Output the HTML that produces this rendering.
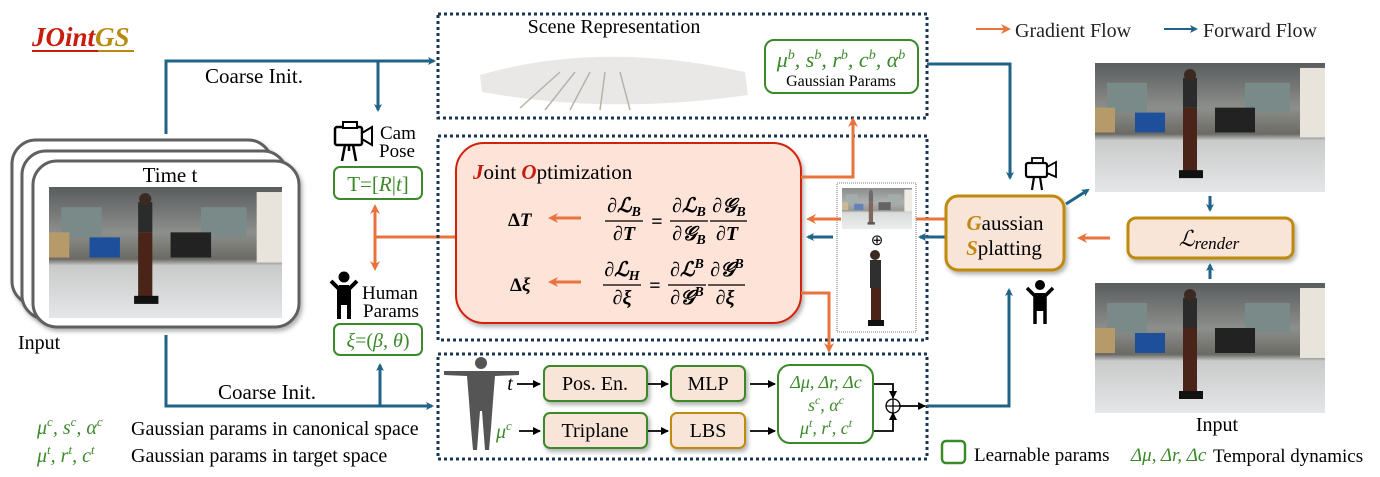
<!DOCTYPE html>
<html><head><meta charset="utf-8"><style>
html,body{margin:0;padding:0;background:#fff;}
svg{display:block;font-family:"Liberation Serif",serif;}
</style></head><body>
<svg width="1380" height="477" viewBox="0 0 1380 477" xmlns="http://www.w3.org/2000/svg">
<defs>
<marker id="bl" markerWidth="8" markerHeight="8" refX="6" refY="4" orient="auto" markerUnits="userSpaceOnUse"><path d="M0,0 L8,4 L0,8 L2,4z" fill="#1f6389"/></marker>
<marker id="or" markerWidth="10" markerHeight="10" refX="7" refY="5" orient="auto" markerUnits="userSpaceOnUse"><path d="M0,0 L10,5 L0,10 L3,5z" fill="#e8743b"/></marker>
<marker id="bk" markerWidth="8" markerHeight="8" refX="7" refY="4" orient="auto" markerUnits="userSpaceOnUse"><path d="M0,0 L8,4 L0,8z" fill="#000"/></marker>
<linearGradient id="ph" x1="0" y1="0" x2="0" y2="1">
<stop offset="0" stop-color="#5a5d5e"/><stop offset="0.35" stop-color="#8d8f8c"/><stop offset="0.55" stop-color="#6b6a64"/><stop offset="0.6" stop-color="#c9cbcb"/><stop offset="1" stop-color="#e4e6e7"/></linearGradient>
<filter id="sh" x="-10%" y="-10%" width="130%" height="130%"><feDropShadow dx="2" dy="3" stdDeviation="2" flood-color="#000" flood-opacity="0.3"/></filter>
<symbol id="photo" viewBox="0 0 230 130" preserveAspectRatio="none">
<rect width="230" height="130" fill="url(#ph)"/>
<rect x="12" y="20" width="40" height="30" fill="#7a8a88"/><rect x="150" y="20" width="45" height="30" fill="#7a8a88"/>
<rect x="40" y="50" width="30" height="20" fill="#1d4f9a"/><rect x="120" y="45" width="40" height="25" fill="#222"/>
<rect x="0" y="45" width="20" height="25" fill="#b79a6a"/><rect x="205" y="5" width="25" height="70" fill="#e8e4dc"/>
<rect x="88" y="15" width="14" height="30" fill="#2b2b2b"/><circle cx="95" cy="12" r="6" fill="#3a2a22"/>
<rect x="88" y="45" width="14" height="65" fill="#4a2418"/><rect x="84" y="108" width="24" height="8" fill="#111"/>
</symbol>
</defs>

<!-- title -->
<text x="32" y="46" font-size="27" font-weight="bold" font-style="italic" fill="#c81c0c">JOint<tspan fill="#b88a12">GS</tspan></text>
<rect x="32" y="50" width="66" height="2" fill="#c81c0c"/><rect x="98" y="50" width="36" height="2" fill="#b88a12"/>

<!-- left stacked frames -->
<rect x="12" y="140" width="260" height="165" rx="24" fill="#fff" stroke="#606060" stroke-width="3" filter="url(#sh)"/>
<rect x="22" y="151" width="265" height="168" rx="24" fill="#fff" stroke="#606060" stroke-width="3" filter="url(#sh)"/>
<rect x="33" y="161" width="266" height="166" rx="24" fill="#fff" stroke="#606060" stroke-width="3" filter="url(#sh)"/>
<text x="170" y="182" font-size="21" text-anchor="middle">Time t</text>
<use href="#photo" x="49" y="187" width="233" height="131"/>
<text x="18" y="349" font-size="20">Input</text>

<!-- blue coarse init lines -->
<path d="M166,134 V61 H434" fill="none" stroke="#1f6389" stroke-width="3" marker-end="url(#bl)"/>
<path d="M378,61 V110" fill="none" stroke="#1f6389" stroke-width="3" marker-end="url(#bl)"/>
<text x="205" y="83" font-size="21">Coarse Init.</text>
<path d="M166,335 V406 H432" fill="none" stroke="#1f6389" stroke-width="3" marker-end="url(#bl)"/>
<path d="M380,406 V365" fill="none" stroke="#1f6389" stroke-width="3" marker-end="url(#bl)"/>
<text x="218" y="399" font-size="21">Coarse Init.</text>

<!-- cam icon -->
<g transform="translate(334,121)">
<rect x="1" y="6" width="27" height="18" rx="2" fill="#fff" stroke="#000" stroke-width="2.5"/>
<rect x="9" y="1" width="14" height="6" fill="#fff" stroke="#000" stroke-width="2"/>
<path d="M28,12 L38,6 V24 L28,18z" fill="#fff" stroke="#000" stroke-width="2"/>
<path d="M11,24 L8,40 M19,24 L22,40 M15,24 V30" stroke="#000" stroke-width="2.5"/>
</g>
<text x="380" y="139" font-size="19">Cam</text><text x="379" y="157" font-size="19">Pose</text>
<rect x="334" y="167" width="88" height="32" rx="6" fill="#fff" stroke="#3b8a2a" stroke-width="2"/>
<text x="378" y="191" font-size="21" text-anchor="middle" fill="#3b8a2a">T=[<tspan font-style="italic">R</tspan>|<tspan font-style="italic">t</tspan>]</text>

<!-- human icon -->
<g transform="translate(329,271)" fill="#000" stroke="#000">
<circle cx="15" cy="6" r="5"/>
<path d="M2,10 L10,18 V48 M28,10 L20,18 V48" fill="none" stroke-width="4"/>
<rect x="10" y="14" width="10" height="20" stroke="none"/>
</g>
<text x="362" y="299" font-size="19">Human</text><text x="363" y="317" font-size="19">Params</text>
<rect x="334" y="324" width="88" height="31" rx="6" fill="#fff" stroke="#3b8a2a" stroke-width="2"/>
<text x="378" y="347" font-size="20" text-anchor="middle" fill="#3b8a2a" font-style="italic">ξ<tspan font-style="normal">=(</tspan>β, θ<tspan font-style="normal">)</tspan></text>

<!-- orange bidir -->
<path d="M456,237 H375" fill="none" stroke="#e8743b" stroke-width="3"/>
<path d="M375,237 V207" fill="none" stroke="#e8743b" stroke-width="3" marker-end="url(#or)"/>
<path d="M375,237 V268" fill="none" stroke="#e8743b" stroke-width="3" marker-end="url(#or)"/>

<!-- dotted boxes -->
<g fill="none" stroke="#1b3550" stroke-width="3" stroke-dasharray="3,3">
<rect x="438" y="14" width="489" height="104"/>
<rect x="438" y="136" width="489" height="204"/>
<rect x="438" y="354" width="489" height="105"/>
</g>

<!-- scene -->
<text x="614" y="33" font-size="20" text-anchor="middle">Scene Representation</text>
<g fill="#8a8174" opacity="0.7">
<path d="M480,75 Q600,40 745,72 L748,95 Q610,115 482,92z" opacity="0.25"/>
<path d="M520,108 L560,72 M545,110 L575,72 M570,110 L590,72 M600,110 L605,72 M630,110 L620,72" stroke="#9a9388" stroke-width="1.5" fill="none"/>
</g>
<rect x="765" y="40" width="153" height="53" rx="9" fill="#fff" stroke="#3b8a2a" stroke-width="2"/>
<text x="841" y="67" font-size="22" text-anchor="middle" fill="#3b8a2a" font-style="italic">μ<tspan dy="-8" font-size="14">b</tspan><tspan dy="8">, s</tspan><tspan dy="-8" font-size="14">b</tspan><tspan dy="8">, r</tspan><tspan dy="-8" font-size="14">b</tspan><tspan dy="8">, c</tspan><tspan dy="-8" font-size="14">b</tspan><tspan dy="8">, α</tspan><tspan dy="-8" font-size="14">b</tspan></text>
<text x="841" y="86" font-size="16" text-anchor="middle">Gaussian Params</text>

<!-- joint opt -->
<rect x="456" y="143" width="345" height="180" rx="28" fill="#fde3d8" stroke="#d0200a" stroke-width="2" filter="url(#sh)"/>
<text x="473" y="179" font-size="21"><tspan fill="#c81c0c" font-weight="bold" font-style="italic">J</tspan>oint <tspan fill="#c81c0c" font-weight="bold" font-style="italic">O</tspan>ptimization</text>
<text x="508" y="226" font-size="19" font-weight="bold">Δ<tspan font-style="italic">T</tspan></text>
<text x="510" y="291" font-size="19" font-weight="bold">Δ<tspan font-style="italic">ξ</tspan></text>
<path d="M581,218 H551" stroke="#e8743b" stroke-width="3" marker-end="url(#or)"/>
<path d="M581,282 H551" stroke="#e8743b" stroke-width="3" marker-end="url(#or)"/>
<g font-size="20" font-weight="bold" font-style="italic" text-anchor="middle">
<text x="624" y="212">∂ℒ<tspan font-size="14" dy="4">B</tspan></text><text x="624" y="240">∂T</text>
<text x="657" y="228" font-style="normal">=</text>
<text x="689" y="212">∂ℒ<tspan font-size="14" dy="4">B</tspan></text><text x="689" y="240">∂𝒢<tspan font-size="14" dy="4">B</tspan></text>
<text x="729" y="212">∂𝒢<tspan font-size="14" dy="4">B</tspan></text><text x="727" y="240">∂T</text>
<text x="622" y="276">∂ℒ<tspan font-size="14" dy="4">H</tspan></text><text x="622" y="304">∂ξ</text>
<text x="655" y="292" font-style="normal">=</text>
<text x="687" y="276">∂ℒ<tspan font-size="14" dy="-8">B</tspan></text><text x="687" y="304">∂𝒢<tspan font-size="14" dy="-8">B</tspan></text>
<text x="727" y="276">∂𝒢<tspan font-size="14" dy="-8">B</tspan></text><text x="725" y="304">∂ξ</text>
</g>
<g stroke="#000" stroke-width="1.3">
<line x1="605" y1="221" x2="643" y2="221"/>
<line x1="670" y1="221" x2="708" y2="221"/>
<line x1="710" y1="221" x2="747" y2="221"/>
<line x1="603" y1="285" x2="641" y2="285"/>
<line x1="668" y1="285" x2="706" y2="285"/>
<line x1="708" y1="285" x2="745" y2="285"/>
</g>

<!-- orange out of joint box -->
<path d="M801,177 H853 V120" fill="none" stroke="#e8743b" stroke-width="3" marker-end="url(#or)"/>
<path d="M801,293 H829 V350" fill="none" stroke="#e8743b" stroke-width="3" marker-end="url(#or)"/>

<!-- thin image box -->
<rect x="837" y="183" width="79" height="149" fill="#fff" stroke="#555" stroke-width="0.8" stroke-dasharray="1,1"/>
<use href="#photo" x="842" y="188" width="70" height="41"/>
<rect x="842" y="188" width="70" height="41" fill="#fff" opacity="0.3"/>
<text x="877" y="245" font-size="15" text-anchor="middle">⊕</text>
<g transform="translate(866,248)">
<circle cx="9" cy="7" r="5" fill="#3a2a22"/>
<rect x="4" y="12" width="11" height="28" fill="#2f2f2f"/>
<rect x="5" y="40" width="10" height="34" fill="#4a2418"/>
<rect x="2" y="72" width="16" height="6" fill="#111"/>
</g>

<!-- arrows between -->
<path d="M946,219 H916" stroke="#e8743b" stroke-width="3"/>
<path d="M841,219 H809" stroke="#e8743b" stroke-width="3" marker-end="url(#or)"/>
<path d="M946,237 H920" stroke="#1f6389" stroke-width="3" marker-end="url(#bl)"/>
<path d="M833,237 H808" stroke="#1f6389" stroke-width="3" marker-end="url(#bl)"/>

<!-- Gaussian splatting -->
<rect x="946" y="196" width="118" height="74" rx="12" fill="#f9e4d8" stroke="#c08a10" stroke-width="3" filter="url(#sh)"/>
<text x="1005" y="230" font-size="21" text-anchor="middle"><tspan fill="#c08a10" font-weight="bold" font-style="italic">G</tspan>aussian</text>
<text x="1004" y="255" font-size="21" text-anchor="middle"><tspan fill="#c08a10" font-weight="bold" font-style="italic">S</tspan>platting</text>
<path d="M927,64 H1010 V178" fill="none" stroke="#1f6389" stroke-width="3" marker-end="url(#bl)"/>
<path d="M927,406 H1009 V290" fill="none" stroke="#1f6389" stroke-width="3" marker-end="url(#bl)"/>
<g transform="translate(1025,157)">
<rect x="1" y="6" width="21" height="14" rx="2" fill="#fff" stroke="#000" stroke-width="2.2"/>
<rect x="7" y="1" width="11" height="5" fill="#fff" stroke="#000" stroke-width="1.8"/>
<path d="M22,10 L31,5 V20 L22,16z" fill="#fff" stroke="#000" stroke-width="1.8"/>
<path d="M9,20 L7,33 M15,20 L17,33" stroke="#000" stroke-width="2.2"/>
</g>
<g transform="translate(1026,280)" stroke="#000">
<circle cx="14" cy="5" r="4.5" fill="#000"/>
<path d="M1,8 L9,16 V44 M27,8 L19,16 V44" fill="none" stroke-width="3.5"/>
<rect x="9" y="13" width="10" height="18" fill="#000" stroke="none"/>
</g>
<path d="M1066,204 L1088,190" stroke="#1f6389" stroke-width="3" marker-end="url(#bl)"/>

<!-- right images -->
<use href="#photo" x="1095" y="63" width="230" height="129"/>
<use href="#photo" x="1095" y="283" width="230" height="130"/>
<text x="1217" y="431" font-size="20" text-anchor="middle">Input</text>
<path d="M1210,196 V210" stroke="#1f6389" stroke-width="3" marker-end="url(#bl)"/>
<path d="M1210,279 V265" stroke="#1f6389" stroke-width="3" marker-end="url(#bl)"/>
<rect x="1128" y="218" width="165" height="40" rx="8" fill="#f9e4d8" stroke="#c08a10" stroke-width="3" filter="url(#sh)"/>
<text x="1209" y="246" font-size="22" text-anchor="middle" font-style="italic">ℒ<tspan font-size="17" dy="3">render</tspan></text>
<path d="M1110,238 H1080" stroke="#e8743b" stroke-width="3" marker-end="url(#or)"/>

<!-- top legend -->
<path d="M976,29 H1008" stroke="#e8743b" stroke-width="2" marker-end="url(#or)"/>
<text x="1015" y="37" font-size="20" fill="#222">Gradient Flow</text>
<path d="M1164,29 H1196" stroke="#1f6389" stroke-width="2" marker-end="url(#bl)"/>
<text x="1203" y="37" font-size="20" fill="#222">Forward Flow</text>

<!-- bottom box -->
<g transform="translate(441,356)" fill="#555">
<circle cx="40" cy="7" r="6"/>
<path d="M3,15 L78,15 L78,19 L54,20 L52,45 L50,72 L48,94 L44,94 L41,55 L39,55 L36,94 L32,94 L30,72 L28,45 L26,20 L3,19z"/>
</g>
<text x="510" y="390" font-size="20" font-style="italic" text-anchor="middle">t</text>
<text x="496" y="438" font-size="20" font-style="italic" fill="#3b8a2a">μ<tspan font-size="13" dy="-8">c</tspan></text>
<g stroke="#000" stroke-width="1.8">
<path d="M517,384 H540" marker-end="url(#bk)"/>
<path d="M519,431 H540" marker-end="url(#bk)"/>
<path d="M648,384 H668" marker-end="url(#bk)"/>
<path d="M648,431 H668" marker-end="url(#bk)"/>
<path d="M750,384 H775" marker-end="url(#bk)"/>
<path d="M750,431 H775" marker-end="url(#bk)"/>
<path d="M874,384 H893 V398" fill="none" marker-end="url(#bk)"/>
<path d="M874,431 H893 V413" fill="none" marker-end="url(#bk)"/>
<path d="M900,406 H925" marker-end="url(#bk)"/>
</g>
<circle cx="893" cy="406" r="7" fill="#fff" stroke="#000" stroke-width="1.3"/>
<path d="M886,406 H900 M893,399 V413" stroke="#000" stroke-width="1.3"/>
<g font-size="20" text-anchor="middle">
<rect x="544" y="366" width="103" height="35" rx="6" fill="#f9e4d8" stroke="#3b8a2a" stroke-width="2" filter="url(#sh)"/>
<text x="595" y="390">Pos. En.</text>
<rect x="671" y="366" width="74" height="35" rx="6" fill="#f9e4d8" stroke="#3b8a2a" stroke-width="2" filter="url(#sh)"/>
<text x="708" y="390">MLP</text>
<rect x="544" y="413" width="103" height="35" rx="6" fill="#f9e4d8" stroke="#3b8a2a" stroke-width="2" filter="url(#sh)"/>
<text x="595" y="437">Triplane</text>
<rect x="671" y="413" width="74" height="35" rx="6" fill="#f9e4d8" stroke="#c08a10" stroke-width="2" filter="url(#sh)"/>
<text x="708" y="437">LBS</text>
</g>
<rect x="778" y="365" width="95" height="78" rx="12" fill="#fff" stroke="#3b8a2a" stroke-width="2"/>
<g font-size="18" text-anchor="middle" fill="#3b8a2a" font-style="italic">
<text x="826" y="388">Δμ, Δr, Δc</text>
<text x="826" y="411">s<tspan font-size="12" dy="-7">c</tspan><tspan dy="7">, α</tspan><tspan font-size="12" dy="-7">c</tspan></text>
<text x="826" y="434">μ<tspan font-size="12" dy="-7">t</tspan><tspan dy="7">, r</tspan><tspan font-size="12" dy="-7">t</tspan><tspan dy="7">, c</tspan><tspan font-size="12" dy="-7">t</tspan></text>
</g>

<!-- bottom-left legend -->
<g font-size="20">
<text x="37" y="434" fill="#3b8a2a" font-style="italic">μ<tspan font-size="13" dy="-8">c</tspan><tspan dy="8">, s</tspan><tspan font-size="13" dy="-8">c</tspan><tspan dy="8">, α</tspan><tspan font-size="13" dy="-8">c</tspan></text>
<text x="131" y="435">Gaussian params in canonical space</text>
<text x="37" y="462" fill="#3b8a2a" font-style="italic">μ<tspan font-size="13" dy="-8">t</tspan><tspan dy="8">, r</tspan><tspan font-size="13" dy="-8">t</tspan><tspan dy="8">, c</tspan><tspan font-size="13" dy="-8">t</tspan></text>
<text x="131" y="462">Gaussian params in target space</text>
</g>

<!-- bottom-right legend -->
<rect x="942" y="441" width="23" height="22" rx="4" fill="#fff" stroke="#3b8a2a" stroke-width="2.5"/>
<text x="974" y="461" font-size="19">Learnable params</text>
<text x="1131" y="461" font-size="19" fill="#3b8a2a" font-style="italic">Δμ, Δr, Δc</text>
<text x="1213" y="462" font-size="19">Temporal dynamics</text>
</svg>
</body></html>
